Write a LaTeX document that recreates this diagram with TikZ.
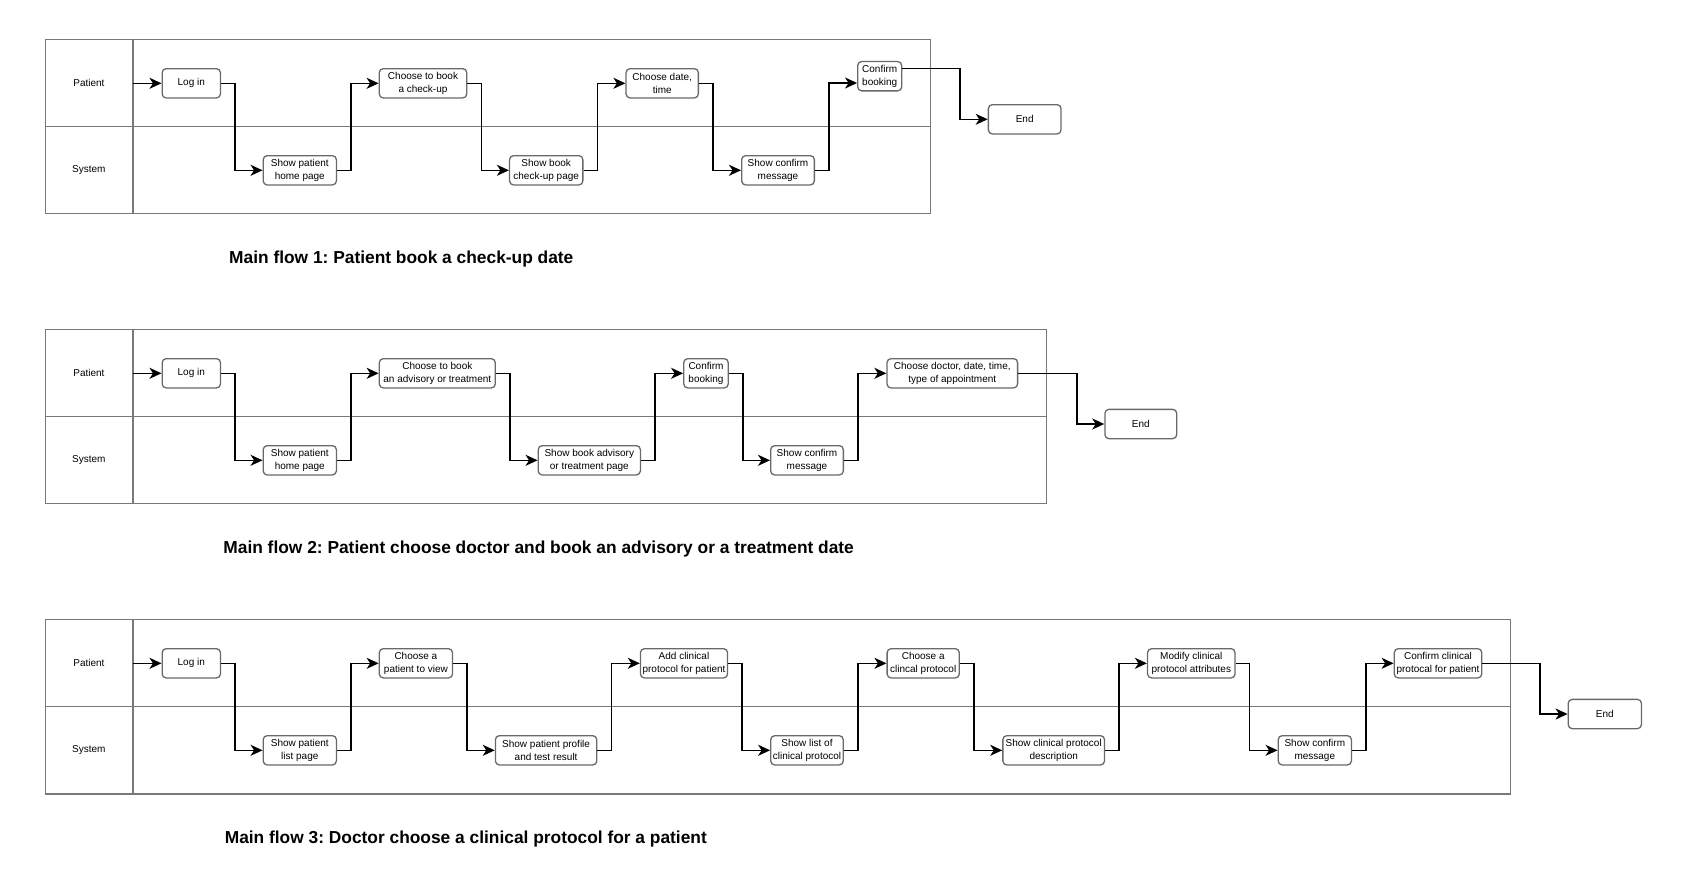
\documentclass[tikz,border=0pt]{standalone}
\usepackage{fontspec}
\setmainfont{Liberation Sans}
\usetikzlibrary{arrows.meta,calc}
\frenchspacing

\definecolor{boxgray}{RGB}{105,105,105}
\definecolor{poolgray}{RGB}{120,120,120}

\tikzset{
  stepnode/.style={draw=boxgray, line width=1.3pt, rounded corners=4pt, fill=white,
    minimum height=29.3pt, minimum width=#1, inner sep=0pt, align=center,
    font=\fontsize{10}{13.3}\selectfont},
  lanelabel/.style={font=\fontsize{10}{12}\selectfont, inner sep=0pt},
  flow/.style={draw=black, line width=1.5pt, -{Stealth[length=12pt,width=11pt,inset=3.5pt]}},
  pool/.style={draw=poolgray, line width=1.5pt},
  caption/.style={anchor=west, inner sep=0pt, font=\fontsize{17.35}{20}\selectfont\bfseries},
}

\begin{document}
\begin{tikzpicture}[x=1pt,y=-1pt]
\useasboundingbox (0,0) rectangle (1688,875);

% ---------------- Flow 1 ----------------
\draw[pool] (45.4,39.3) rectangle (930.7,213.7);
\draw[pool] (45.4,126.7) -- (930.7,126.7);
\draw[pool] (132.9,39.3) -- (132.9,213.7);
\coordinate (hdr1) at (132.9,39.3);
\node[lanelabel] (pat1) at (88.9,83.3) {Patient};
\node[lanelabel] (sys1) at (88.9,170.3) {System};

\node[stepnode=58.3pt] (li1) at (191.3,83.3) {Log in};
\node[stepnode=73.2pt] (sp1) at (299.8,170.3) {Show patient\\home page};
\node[stepnode=87.5pt] (cb1) at (423,83.3) {Choose to book\\a check-up};
\node[stepnode=73.3pt] (sb1) at (546.2,170.3) {Show book\\check-up page};
\node[stepnode=72.3pt] (cd1) at (662.2,83.3) {Choose date,\\time};
\node[stepnode=72.7pt] (sc1) at (778,170.3) {Show confirm\\message};
\node[stepnode=44pt] (cf1) at (879.7,76.2) {Confirm\\booking};
\node[stepnode=72.7pt] (end1) at (1024.7,119.3) {End};

\draw[flow] (hdr1 |- li1.west) -- (li1.west);
\draw[flow] (li1.east) -- ++(14,0) |- (sp1.west);
\draw[flow] (sp1.east) -- ++(14,0) |- (cb1.west);
\draw[flow] (cb1.east) -- ++(14,0) |- (sb1.west);
\draw[flow] (sb1.east) -- ++(14,0) |- (cd1.west);
\draw[flow] (cd1.east) -- ++(14,0) |- (sc1.west);
\draw[flow] (sc1.east) -- ++(14,0) |- ($(cf1.west)+(0,6.8)$);
\draw[flow] ($(cf1.east)+(0,-7.5)$) -- ++(57.6,0) |- (end1.west);

\node[caption] (t1) at (229,258.7) {Main flow 1: Patient book a check-up date};

% ---------------- Flow 2 ----------------
\draw[pool] (45.4,329.3) rectangle (1046.5,503.7);
\draw[pool] (45.4,416.7) -- (1046.5,416.7);
\draw[pool] (132.9,329.3) -- (132.9,503.7);
\coordinate (hdr2) at (132.9,329.3);
\node[lanelabel] (pat2) at (88.9,373.3) {Patient};
\node[lanelabel] (sys2) at (88.9,460.3) {System};

\node[stepnode=58.3pt] (li2) at (191.3,373.3) {Log in};
\node[stepnode=73.2pt] (sp2) at (299.8,460.3) {Show patient\\home page};
\node[stepnode=116pt] (ca2) at (437.3,373.3) {Choose to book\\an advisory or treatment};
\node[stepnode=102.2pt] (sb2) at (589.3,460.3) {Show book advisory\\or treatment page};
\node[stepnode=44.5pt] (cf2) at (706,373.3) {Confirm\\booking};
\node[stepnode=72.7pt] (sc2) at (807,460.3) {Show confirm\\message};
\node[stepnode=130.6pt] (cd2) at (952.3,373.3) {Choose doctor, date, time,\\type of appointment};
\node[stepnode=71.8pt] (end2) at (1140.8,424) {End};

\draw[flow] (hdr2 |- li2.west) -- (li2.west);
\draw[flow] (li2.east) -- ++(14,0) |- (sp2.west);
\draw[flow] (sp2.east) -- ++(14,0) |- (ca2.west);
\draw[flow] (ca2.east) -- ++(14,0) |- (sb2.west);
\draw[flow] (sb2.east) -- ++(14,0) |- (cf2.west);
\draw[flow] (cf2.east) -- ++(14,0) |- (sc2.west);
\draw[flow] (sc2.east) -- ++(14,0) |- (cd2.west);
\draw[flow] (cd2.east) -- ++(58.7,0) |- (end2.west);

\node[caption] (t2) at (223.2,548.7) {Main flow 2: Patient choose doctor and book an advisory or a treatment date};

% ---------------- Flow 3 ----------------
\draw[pool] (45.4,619.3) rectangle (1510.7,794);
\draw[pool] (45.4,706.7) -- (1510.7,706.7);
\draw[pool] (132.9,619.3) -- (132.9,794);
\coordinate (hdr3) at (132.9,619.3);
\node[lanelabel] (pat3) at (88.9,663.3) {Patient};
\node[lanelabel] (sys3) at (88.9,750.3) {System};

\node[stepnode=58.3pt] (li3) at (191.3,663.3) {Log in};
\node[stepnode=73.2pt] (sl3) at (299.8,750.3) {Show patient\\list page};
\node[stepnode=73.2pt] (cp3) at (415.9,663.3) {Choose a\\patient to view};
\node[stepnode=101.4pt] (sp3) at (546.1,750.3) {Show patient profile\\and test result};
\node[stepnode=87.1pt] (ac3) at (684,663.3) {Add clinical\\protocol for patient};
\node[stepnode=72.5pt] (lc3) at (807,750.3) {Show list of\\clinical protocol};
\node[stepnode=72.2pt] (cc3) at (923.2,663.3) {Choose a\\clincal protocol};
\node[stepnode=101.7pt] (sd3) at (1053.7,750.3) {Show clinical protocol\\description};
\node[stepnode=87.5pt] (mc3) at (1191.3,663.3) {Modify clinical\\protocol attributes};
\node[stepnode=73.2pt] (sc3) at (1314.8,750.3) {Show confirm\\message};
\node[stepnode=87.5pt] (cf3) at (1438,663.3) {Confirm clinical\\protocal for patient};
\node[stepnode=73.2pt] (end3) at (1604.8,714) {End};

\draw[flow] (hdr3 |- li3.west) -- (li3.west);
\draw[flow] (li3.east) -- ++(14,0) |- (sl3.west);
\draw[flow] (sl3.east) -- ++(14,0) |- (cp3.west);
\draw[flow] (cp3.east) -- ++(14,0) |- (sp3.west);
\draw[flow] (sp3.east) -- ++(14,0) |- (ac3.west);
\draw[flow] (ac3.east) -- ++(14,0) |- (lc3.west);
\draw[flow] (lc3.east) -- ++(14,0) |- (cc3.west);
\draw[flow] (cc3.east) -- ++(14,0) |- (sd3.west);
\draw[flow] (sd3.east) -- ++(14,0) |- (mc3.west);
\draw[flow] (mc3.east) -- ++(14,0) |- (sc3.west);
\draw[flow] (sc3.east) -- ++(14,0) |- (cf3.west);
\draw[flow] (cf3.east) -- ++(57.5,0) |- (end3.west);

\node[caption] (t3) at (224.6,838.7) {Main flow 3: Doctor choose a clinical protocol for a patient};
\end{tikzpicture}
\end{document}
